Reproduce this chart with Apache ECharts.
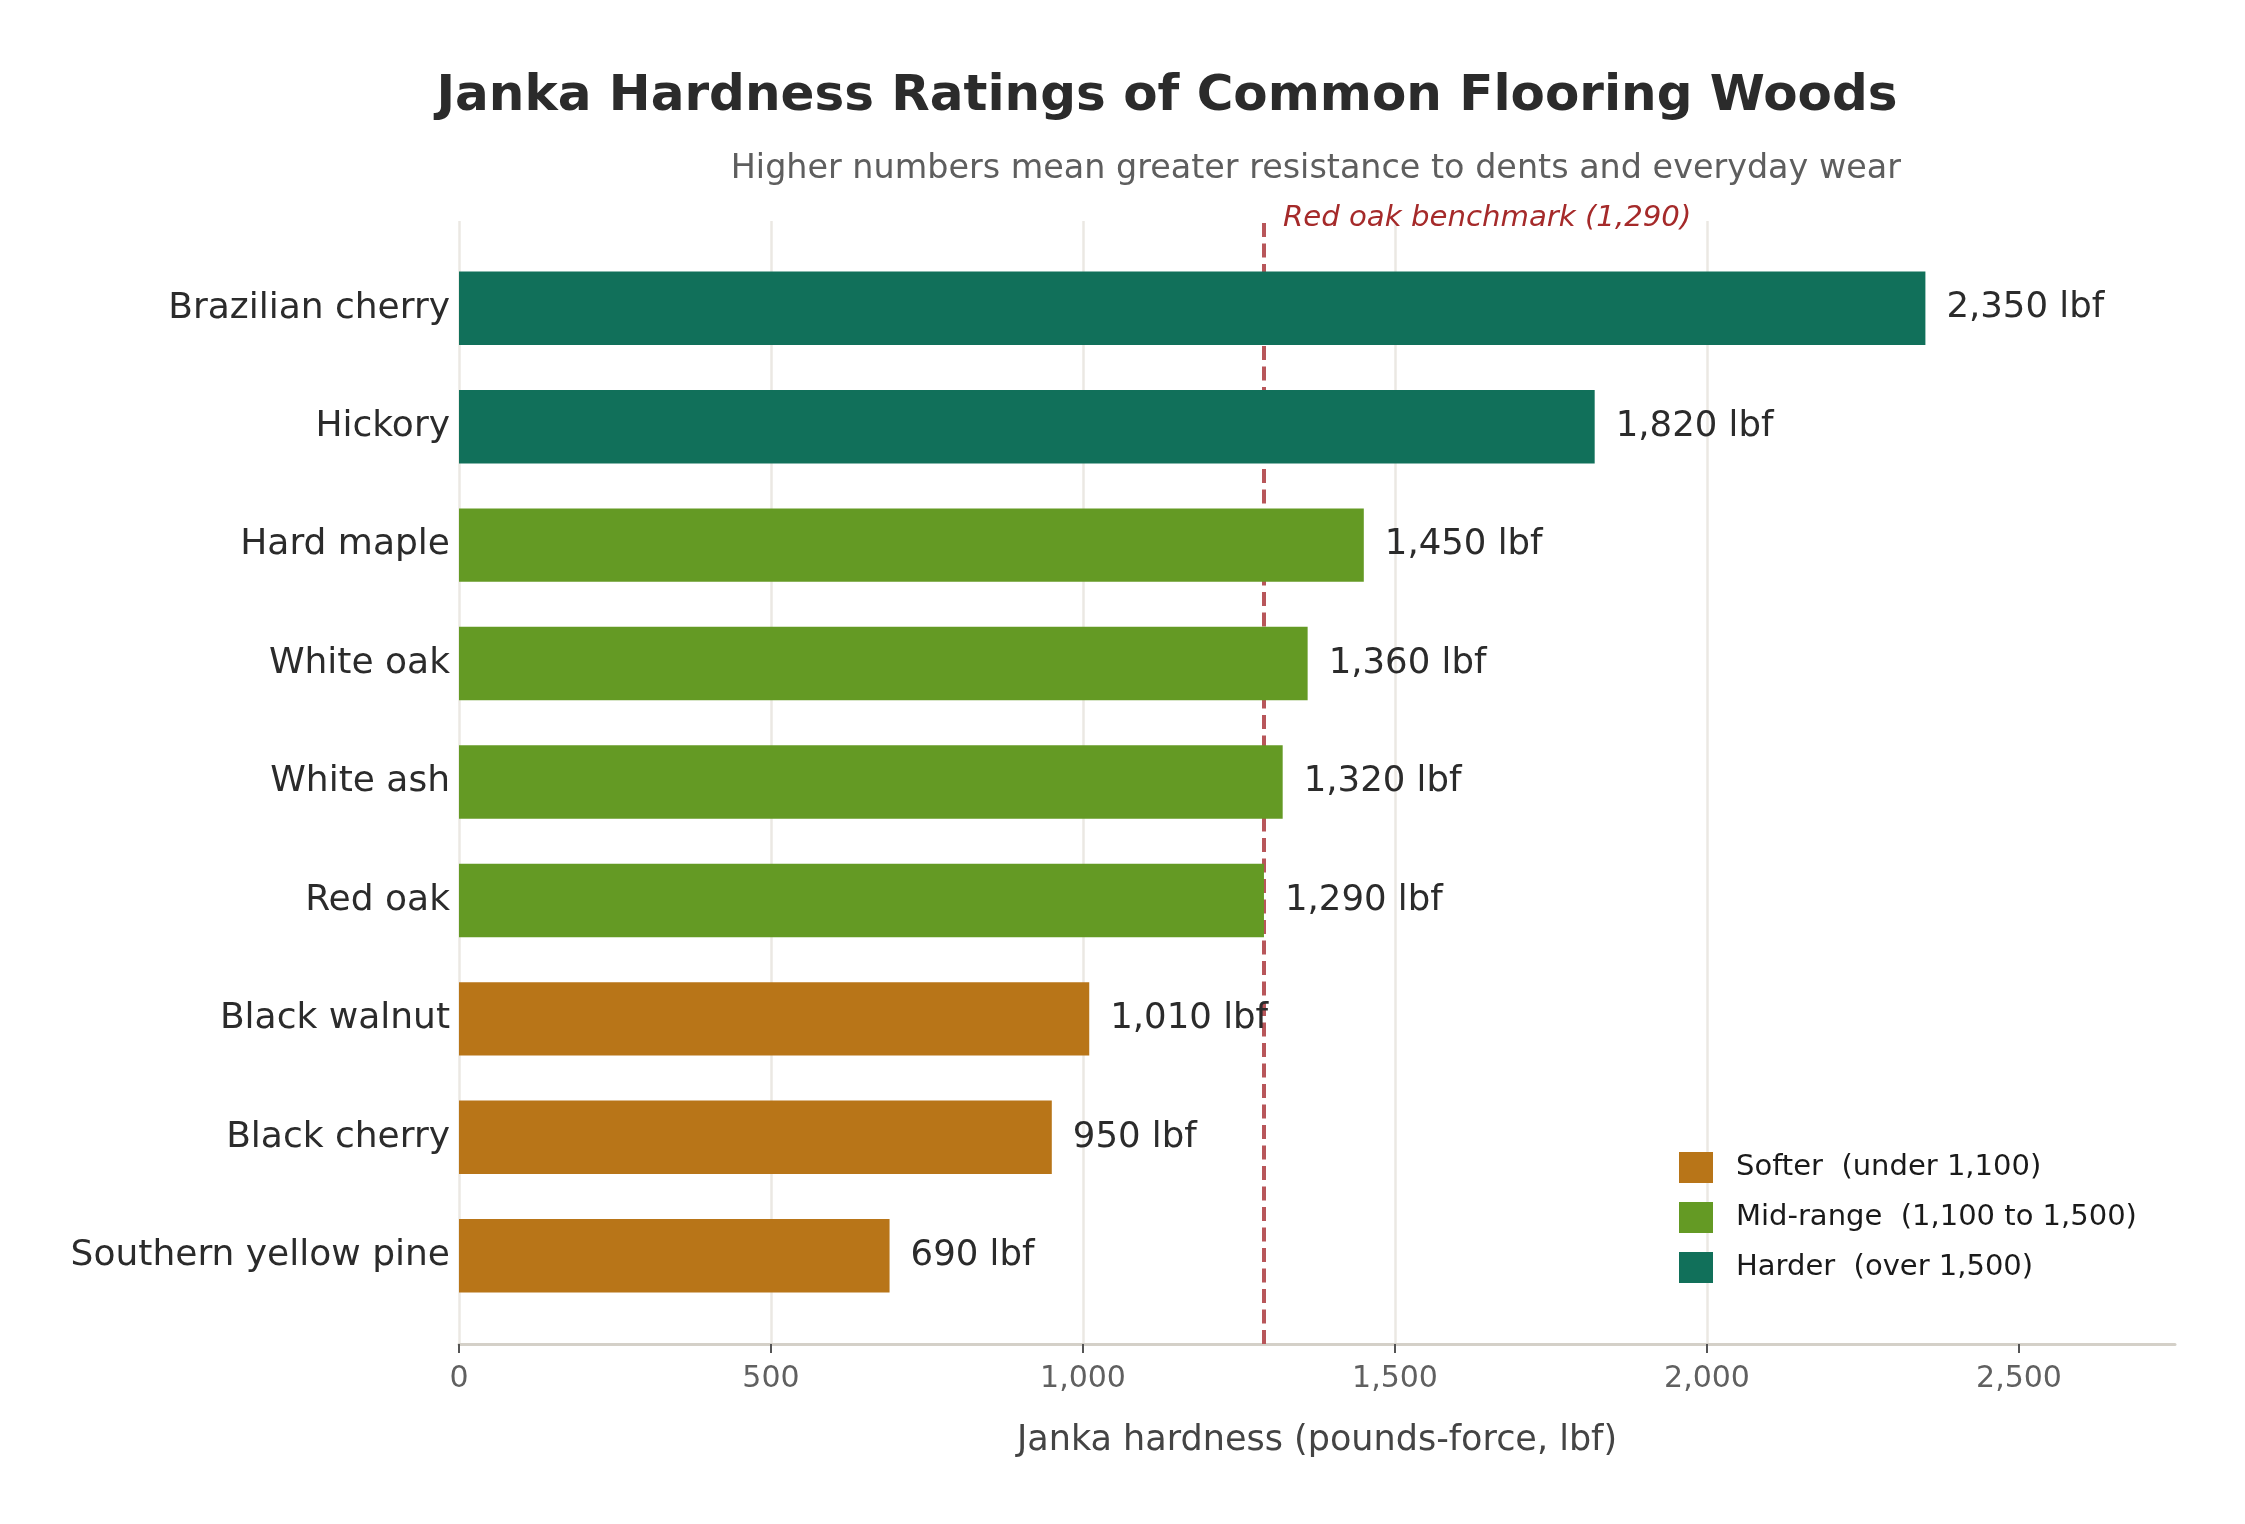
<!DOCTYPE html>
<html>
<head>
<meta charset="utf-8">
<script src="https://cdn.jsdelivr.net/npm/echarts@6/dist/echarts.min.js"></script>
<style>
  html, body { margin: 0; padding: 0; background: #fff; }
  #main { width: 2245px; height: 1524px; }
</style>
</head>
<body>
<div id="main"></div>
<script>
// data
var woods = ['Brazilian cherry', 'Hickory', 'Hard maple', 'White oak', 'White ash',
  'Red oak', 'Black walnut', 'Black cherry', 'Southern yellow pine'];
var hardness = [2350, 1820, 1450, 1360, 1320, 1290, 1010, 950, 690];
var groups = ['Softer  (under 1,100)', 'Mid-range  (1,100 to 1,500)', 'Harder  (over 1,500)'];
var tickValues = [0, 500, 1000, 1500, 2000, 2500];
var axisMax = 2750;
var benchmark = 1290;

var groupColors = ['#b87518', '#649a24', '#11705a'];
var font = 'DejaVu Sans';

function groupOf(v) {
  if (v < 1100) return 0;
  if (v <= 1500) return 1;
  return 2;
}
function fmt(v) {
  return Number(v).toLocaleString('en-US');
}

var barSeries = groups.map(function (name, g) {
  return {
    name: name,
    type: 'bar',
    stack: 'all',
    xAxisIndex: 1,
    yAxisIndex: 1,
    barWidth: '62%',
    z: 2,
    itemStyle: { color: groupColors[g] },
    label: {
      show: true,
      position: 'right',
      distance: 21,
      fontFamily: font,
      fontSize: 35.5,
      color: '#2b2b2b',
      formatter: function (p) { return fmt(p.value) + ' lbf'; }
    },
    data: hardness.map(function (v) { return groupOf(v) === g ? v : '-'; })
  };
});

var option = {
  animation: false,
  backgroundColor: '#ffffff',
  textStyle: { fontFamily: font },
  title: [{
    text: 'Janka Hardness Ratings of Common Flooring Woods',
    left: 1167, top: 72, padding: 0,
    textAlign: 'center',
    textStyle: { fontFamily: font, fontSize: 50, fontWeight: 'bold', color: '#2b2b2b' }
  }, {
    text: 'Higher numbers mean greater resistance to dents and everyday wear',
    left: 1901, top: 153, padding: 0,
    textAlign: 'right',
    textStyle: { fontFamily: font, fontSize: 33.4, fontWeight: 'normal', color: '#5e5e5e' }
  }],
  legend: {
    data: groups,
    orient: 'vertical',
    left: 1679, top: 1152,
    padding: 0,
    itemWidth: 34, itemHeight: 31, itemGap: 19,
    icon: 'rect',
    selectedMode: false,
    textStyle: { fontFamily: font, fontSize: 29, color: '#1a1a1a', padding: [0, 0, 0, 18] }
  },
  grid: [
    { left: 459, right: 70, top: 221, bottom: 180, outerBoundsMode: 'none' },
    { left: 459, right: 70, top: 249, bottom: 209, outerBoundsMode: 'none' }
  ],
  xAxis: [{
    gridIndex: 0,
    type: 'value',
    min: 0, max: axisMax, interval: 500,
    name: 'Janka hardness (pounds-force, lbf)',
    nameLocation: 'middle',
    nameGap: 79,
    nameTextStyle: { fontFamily: font, fontSize: 35, color: '#444444' },
    axisLine: { show: true, lineStyle: { color: '#d4d0c8', width: 3 } },
    axisTick: { show: true, length: 9, lineStyle: { color: '#555555', width: 2 }, customValues: tickValues },
    axisLabel: {
      margin: 20, fontFamily: font, fontSize: 30, color: '#606060',
      customValues: tickValues,
      formatter: function (v) { return fmt(v); }
    },
    splitLine: { show: true, showMaxLine: false, lineStyle: { color: '#ebe8e3', width: 2.5 } }
  }, {
    gridIndex: 1,
    type: 'value',
    min: 0, max: axisMax,
    show: false
  }],
  yAxis: [{
    gridIndex: 0,
    type: 'value',
    min: 0, max: 1,
    show: false
  }, {
    gridIndex: 1,
    type: 'category',
    data: woods,
    inverse: true,
    axisLine: { show: false },
    axisTick: { show: false },
    splitLine: { show: false },
    axisLabel: { margin: 9, fontFamily: font, fontSize: 36, color: '#2b2b2b' }
  }],
  series: [{
    name: 'benchmark',
    type: 'line',
    xAxisIndex: 0,
    yAxisIndex: 0,
    data: [],
    silent: true,
    markLine: {
      silent: true,
      z: 1,
      symbol: ['none', 'none'],
      label: { show: false },
      lineStyle: { color: '#b8565a', width: 4, type: [14, 6.5] },
      data: [{ xAxis: benchmark }]
    }
  }].concat(barSeries)
};

var myChart = echarts.init(document.getElementById('main'));
myChart.setOption(option);

// benchmark label placed next to the reference line
var bx = myChart.convertToPixel({ xAxisIndex: 0 }, benchmark);
myChart.setOption({
  graphic: [{
    type: 'text',
    x: bx + 19,
    y: 218,
    silent: true,
    style: {
      text: 'Red oak benchmark (' + fmt(benchmark) + ')',
      fontFamily: font,
      fontSize: 29.2,
      fontStyle: 'italic',
      fill: '#a52a2a',
      align: 'left',
      verticalAlign: 'middle'
    }
  }]
});
</script>
</body>
</html>
